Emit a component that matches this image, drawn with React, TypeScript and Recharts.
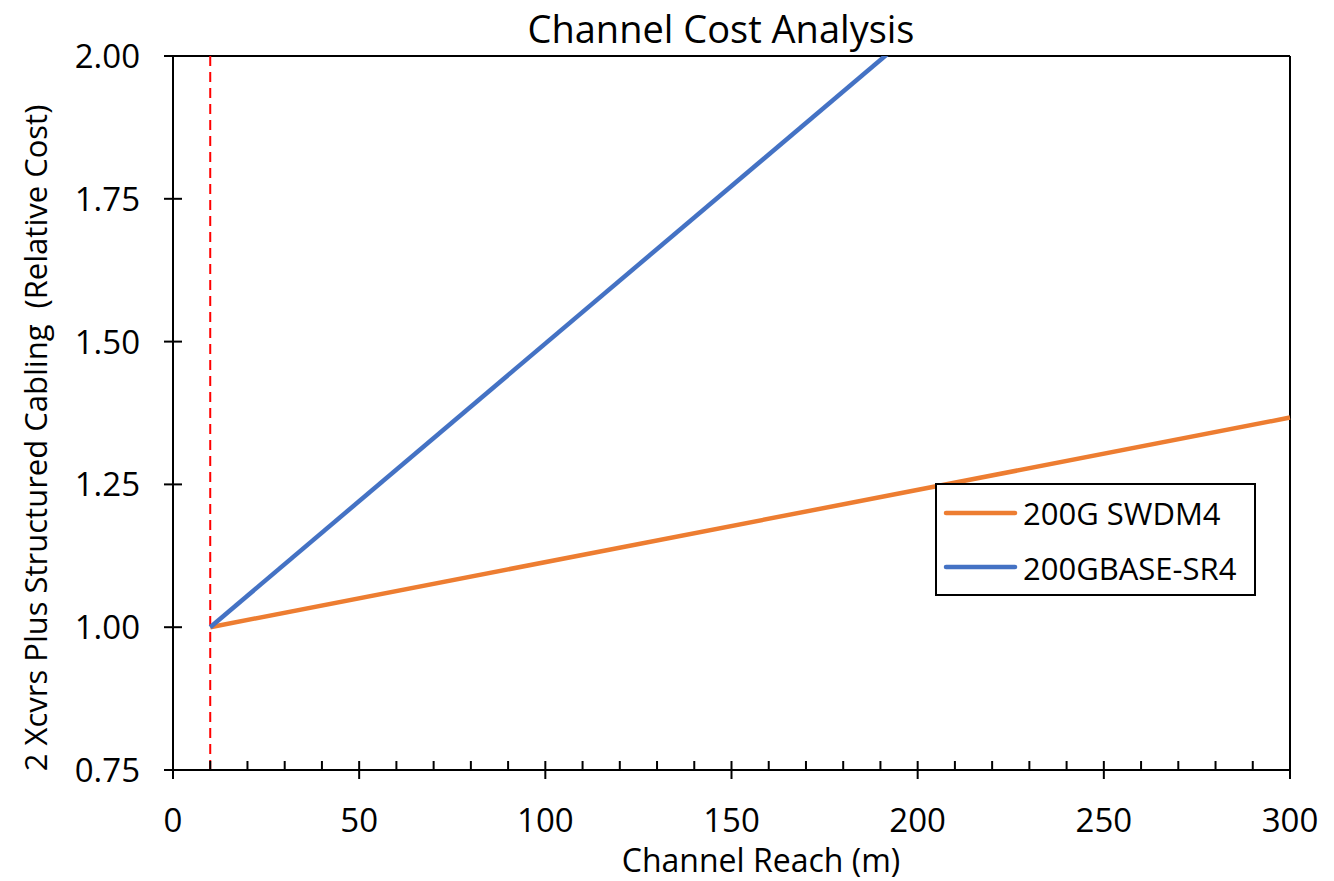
import { LineChart, Line, XAxis, YAxis, ReferenceLine } from 'recharts'

// channel reach (m)
const reach = [10, 300]
// relative cost, 2 transceivers plus structured cabling
const swdm4 = [1.0, 1.367]
const sr4 = [1.0, 2.6]

const xTicks = [0, 10, 20, 30, 40, 50, 60, 70, 80, 90, 100, 110, 120, 130, 140, 150, 160, 170, 180, 190, 200, 210, 220, 230, 240, 250, 260, 270, 280, 290, 300]
const yTicks = [0.75, 1.0, 1.25, 1.5, 1.75, 2.0]

const series = [
  { key: 'swdm4', name: '200G SWDM4', color: '#ED7D31' },
  { key: 'sr4', name: '200GBASE-SR4', color: '#4472C4' },
]

const data = reach.map((r, i) => ({ reach: r, swdm4: swdm4[i], sr4: sr4[i] }))

const FONT = '"Open Sans", Lato, sans-serif'

const XTick = (props: any) => {
  const { x, y, payload } = props
  const major = payload.value % 50 === 0
  return (
    <g>
      {major
        ? <line x1={x} x2={x} y1={y - 9} y2={y + 9} stroke="#000" strokeWidth={2} />
        : <line x1={x} x2={x} y1={y - 9} y2={y} stroke="#000" strokeWidth={2} />}
      {major && (
        <text x={x} y={y + 62} textAnchor="middle" fontSize={33} fontFamily={FONT} fill="#000">
          {payload.value}
        </text>
      )}
    </g>
  )
}

const YTick = (props: any) => {
  const { x, y, payload } = props
  return (
    <g>
      <line x1={x - 9} x2={x + 9} y1={y} y2={y} stroke="#000" strokeWidth={2} />
      <text x={x - 33} y={y + 12} textAnchor="end" fontSize={33} fontFamily={FONT} fill="#000">
        {payload.value.toFixed(2)}
      </text>
    </g>
  )
}

export default function App() {
  return (
    <div style={{ position: 'absolute', left: 0, top: 0, width: 1334, height: 881, background: '#fff' }}>
      <svg width={1334} height={881} style={{ position: 'absolute', left: 0, top: 0, pointerEvents: 'none' }}>
        <text x={721} y={43} textAnchor="middle" fontSize={38} fontFamily={FONT} fill="#000">
          Channel Cost Analysis
        </text>
        <text x={761} y={872} textAnchor="middle" fontSize={32} fontFamily={FONT} fill="#000">
          Channel Reach (m)
        </text>
        <text
          x={0}
          y={0}
          transform="translate(47 438) rotate(-90)"
          textAnchor="middle"
          fontSize={31}
          fontFamily={FONT}
          fill="#000"
          style={{ whiteSpace: 'pre' }}
        >
          {'2 Xcvrs Plus Structured Cabling  (Relative Cost)'}
        </text>
      </svg>
      <LineChart
        width={1334}
        height={881}
        data={data}
        margin={{ top: 56, right: 44, bottom: 110, left: 172 }}
        style={{ position: 'absolute', left: 0, top: 0 }}
      >
        <XAxis
          dataKey="reach"
          type="number"
          domain={[0, 300]}
          ticks={xTicks}
          interval={0}
          height={1}
          tickSize={0}
          tickMargin={0}
          tickLine={false}
          tick={<XTick />}
          axisLine={{ stroke: '#000', strokeWidth: 2 }}
        />
        <YAxis
          type="number"
          domain={[0.75, 2]}
          allowDataOverflow
          ticks={yTicks}
          interval={0}
          width={1}
          tickSize={0}
          tickMargin={0}
          tickLine={false}
          tick={<YTick />}
          axisLine={{ stroke: '#000', strokeWidth: 2 }}
        />
        <ReferenceLine y={2} stroke="#000" strokeWidth={2} />
        <ReferenceLine x={300} stroke="#000" strokeWidth={2} />
        <ReferenceLine x={10} stroke="#FF0000" strokeWidth={2} strokeDasharray="10 6" />
        {series.map((s) => (
          <Line
            key={s.key}
            dataKey={s.key}
            name={s.name}
            type="linear"
            stroke={s.color}
            strokeWidth={4.5}
            dot={false}
            activeDot={false}
            isAnimationActive={false}
          />
        ))}
      </LineChart>
      <svg width={1334} height={881} style={{ position: 'absolute', left: 0, top: 0, pointerEvents: 'none' }}>
        <rect x={936} y={484} width={319} height={111} fill="#fff" stroke="#000" strokeWidth={2} />
        {series.map((s, i) => (
          <g key={s.key}>
            <line x1={946} x2={1015} y1={513 + i * 54} y2={513 + i * 54} stroke={s.color} strokeWidth={4.5} strokeLinecap="round" />
            <text x={1023} y={525 + i * 55} fontSize={31} fontFamily={FONT} fill="#000">
              {s.name}
            </text>
          </g>
        ))}
      </svg>
    </div>
  )
}
